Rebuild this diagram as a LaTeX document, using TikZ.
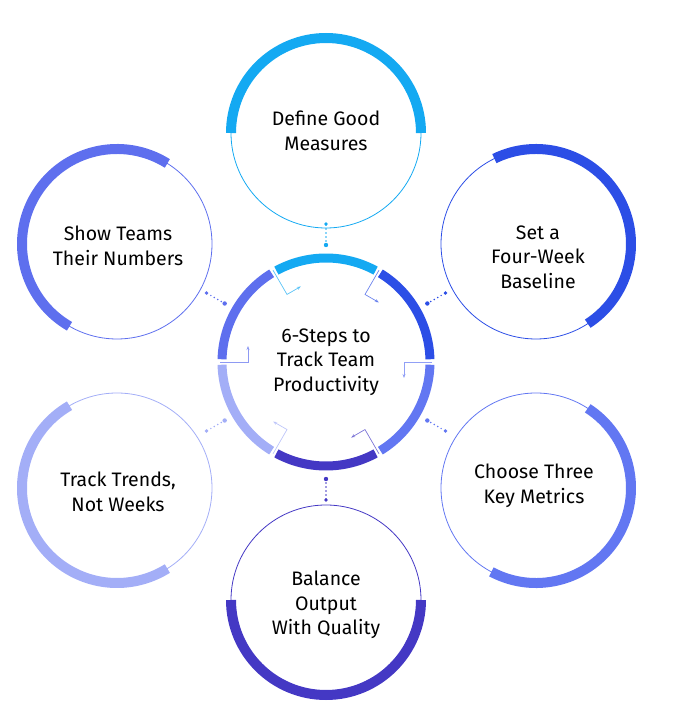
\documentclass[tikz,border=0pt]{standalone}
\usepackage{fontspec}
\setmainfont{Fira Sans}
\usetikzlibrary{arrows.meta,calc}
\definecolor{cA}{HTML}{14A9F2}
\definecolor{cB}{HTML}{2C4EE6}
\definecolor{cC}{HTML}{6277F2}
\definecolor{cD}{HTML}{4438C4}
\definecolor{cE}{HTML}{A3AEF7}
\definecolor{cF}{HTML}{5E6FEE}
\begin{document}
\begin{tikzpicture}[x=1pt,y=1pt,
  lbl/.style={font=\fontsize{19.5}{24.5}\selectfont,align=center,text=black},
  dotl/.style={line width=1.6pt,dash pattern=on 0pt off 4pt,line cap=round}]
\useasboundingbox (0,0) rectangle (686,724);
\foreach \n/\x/\y/\c/\a/\b in {ca/326/591/cA/0/180, cb/536/480/cB/-57/116, cc/536/236/cC/-118/57, cd/326/124/cD/180/360, ce/117/236/cE/120/302, cf/117/480/cF/58/240}{
  \coordinate (\n) at (\x,\y);
  \draw[\c,line width=0.8pt] (\n) circle (95);
  \draw[\c,line width=10pt] ($(\n)+(\a:95)$) arc (\a:\b:95);
}
\node[lbl] (ta) at (326,593) {Define Good\\Measures};
\node[lbl] (tb) at (538,467) {Set a\\Four-Week\\Baseline};
\node[lbl] (tc) at (534,238) {Choose Three\\Key Metrics};
\node[lbl] (td) at (326,119) {Balance\\Output\\With Quality};
\node[lbl] (te) at (118,232) {Track Trends,\\Not Weeks};
\node[lbl] (tf) at (118,478) {Show Teams\\Their Numbers};
\coordinate (cc0) at (326,362);
\foreach \s/\c in {60/cA,0/cB,-60/cC,-120/cD,180/cE,120/cF}{
  \draw[\c,line width=9pt] ($(cc0)+(\s+1.5:104)$) arc (\s+1.5:\s+58.5:104);
  \draw[\c!70,line width=0.7pt,-{Stealth[length=4pt]}] ($(cc0)+(\s+60:106)$) -- ($(cc0)+(\s+60:78)$) -- ++(\s-30:16);
}
\node[lbl] (tm) at (cc0) {6-Steps to\\Track Team\\Productivity};
\foreach \n/\c/\ang in {ca/cA/90, cb/cB/30, cc/cC/-30, cd/cD/-90, ce/cE/210, cf/cF/150}{
  \draw[\c,dotl] ($(cc0)+(\ang:117)$) -- ($(cc0)+(\ang:138)$);
  \fill[\c] ($(cc0)+(\ang:117)$) circle (2.2);
  \fill[\c] ($(cc0)+(\ang:138)$) circle (1.8);
}
\end{tikzpicture}
\end{document}
